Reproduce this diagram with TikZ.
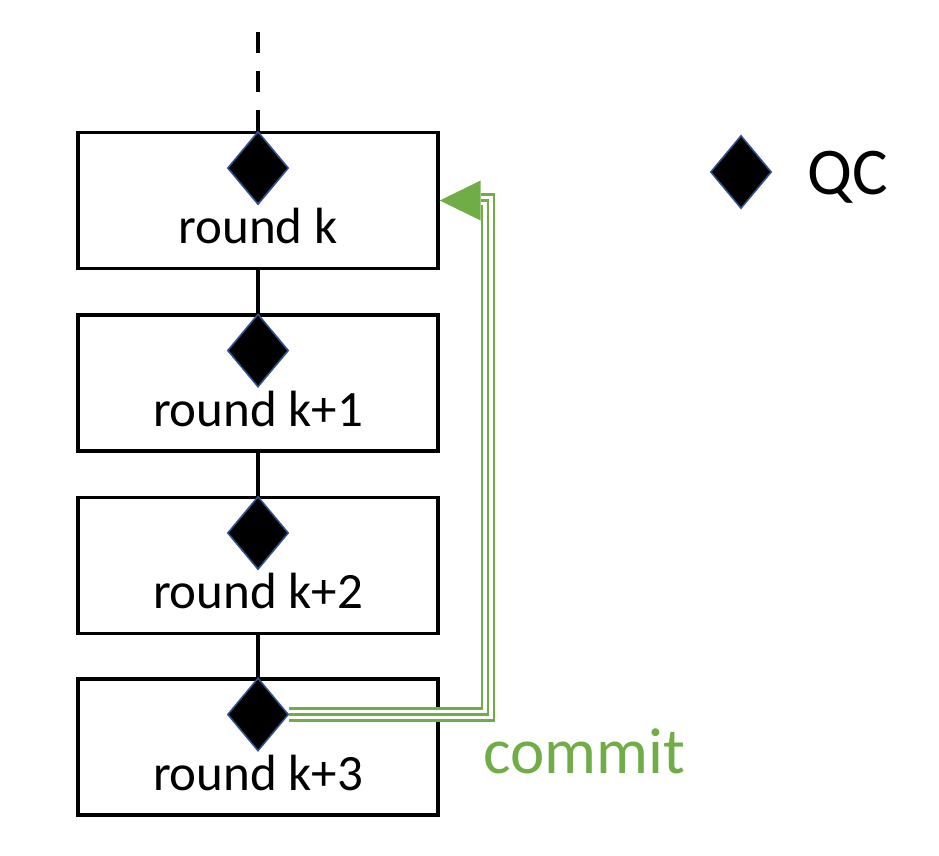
\documentclass[tikz,border=0pt]{standalone}
\usepackage{fontspec}
\setmainfont{Carlito}
\usetikzlibrary{shapes.geometric,positioning,calc}
\definecolor{commitgreen}{HTML}{70AD47}
\definecolor{qcblue}{HTML}{2F528F}
\tikzset{
    roundbox/.style={rectangle,draw=black,line width=2pt,minimum width=7.2cm,minimum height=2.72cm,inner sep=0},
    qc/.style={diamond,draw=qcblue,line width=0.9pt,fill=black,minimum width=1.22cm,minimum height=1.46cm,inner sep=0},
    chain/.style={draw=black,line width=2pt},
    commit/.style={preaction={draw=commitgreen,line width=8.2pt},preaction={draw=white,line width=5.6pt},draw=commitgreen,line width=1.3pt},
    roundlabel/.style={anchor=base,font=\fontsize{29}{32}\selectfont}
}
\begin{document}
\begin{tikzpicture}[x=0.02cm,y=-0.02cm]
    \useasboundingbox (0,0) rectangle (939,855);
    \node[roundbox] (r0) at (258,200.5) {};
    \node[roundbox,below=0.86cm of r0] (r1) {};
    \node[roundbox,below=0.86cm of r1] (r2) {};
    \node[roundbox,below=0.84cm of r2] (r3) {};
    \foreach \i/\txt in {0/k,1/k+1,2/k+2,3/k+3}{
        \node[qc,anchor=north] (q\i) at (r\i.north) {};
        \node[roundlabel] (t\i) at ($(r\i.north)+(0,113)$) {round \txt};
    }
    \coordinate (past) at (258,32);
    \draw[chain,dash pattern=on 11.9pt off 10.2pt] (past) -- (r0.north);
    \foreach \i/\j in {0/1,1/2,2/3}
        \draw[chain] (r\i.south) -- (r\j.north);
    \coordinate (head) at ($(r0.east)+(41,0)$);
    \coordinate (turn) at ($(r0.east)+(48,0)$);
    \draw[commit] (q3.east) -| (turn) -- (head);
    \fill[commitgreen] (r0.east) -- ($(head)+(0,-20)$) -- ($(head)+(0,20)$) -- cycle;
    \node[anchor=base west,text=commitgreen,font=\fontsize{37}{40}\selectfont] (commit) at (477,773) {commit};
    \node[qc] (legendqc) at (741,172) {};
    \node[anchor=base west,font=\fontsize{38}{40}\selectfont] (legendtext) at (801,194) {QC};
\end{tikzpicture}
\end{document}
